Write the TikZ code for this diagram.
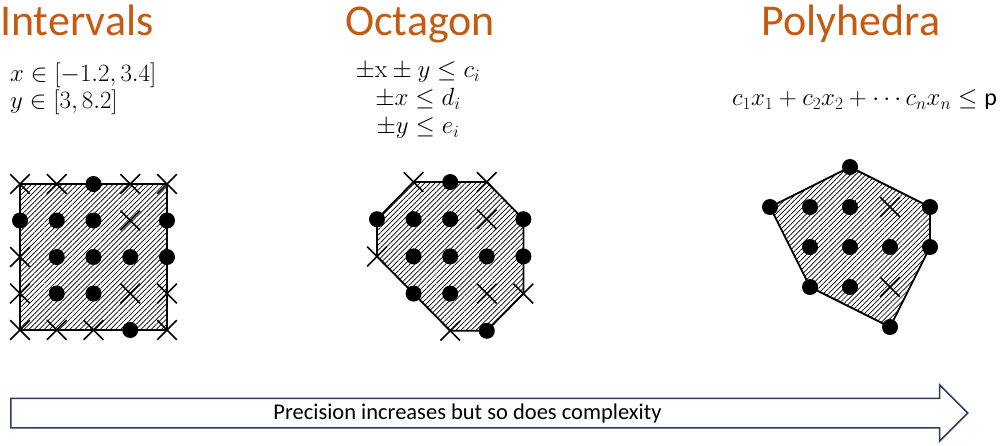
\documentclass[tikz,border=0pt]{standalone}
\usepackage{amsmath,amssymb}
\usepackage[no-math]{fontspec}
\usepackage{tikz}
\usetikzlibrary{shapes,arrows,positioning,calc,patterns.meta}
\newfontfamily\carlito{Carlito}
\definecolor{titleorange}{HTML}{C55A11}
\definecolor{arrownavy}{HTML}{2F3E5C}

\begin{document}
\begin{tikzpicture}[
    x=1pt, y=-1pt,
    title/.style={anchor=base, inner sep=0pt, text=titleorange, font=\carlito\fontsize{44}{50}\selectfont},
    formula/.style={inner sep=0pt, font=\fontsize{24}{27}\selectfont},
    region/.style={draw, line width=1.8pt, line join=miter, pattern={Lines[angle=45, distance=3.6pt, line width=0.7pt]}},
    dotmark/.style={circle, fill=black, inner sep=0pt, minimum size=16pt},
    xmark/.style={cross out, draw, line width=1.6pt, inner sep=0pt, minimum size=18pt}
]
    \path[fill=white, use as bounding box] (0,0) rectangle (1006,445);

    % titles and constraints
    \node[title, anchor=base west] (ivtitle) at (0,35) {Intervals};
    \node[title] (octitle) at (420,35) {Octagon};
    \node[title] (phtitle) at (851,35) {Polyhedra};

    \node[formula, align=left, anchor=west] (ivform) at (10,89) {$x \in [-1.2, 3.4]$\\$y \in [3, 8.2]$};
    \node[formula, align=center, font=\fontsize{24}{28}\selectfont] (ocform) at (418,100)
        {$\pm\mathrm{x} \pm y \leq c_i$\\$\pm x \leq d_i$\\$\pm y \leq e_i$};
    \node[formula] (phform) at (864.5,100) {$c_1x_1 + c_2x_2 + \cdots c_nx_n \leq \mbox{\carlito p}$};

    % intervals
    \begin{scope}[shift={(20,184)}, x=36.75pt, y=-36.5pt]
        \draw[region] (0,0) rectangle (4,4);
        \foreach \c/\r/\m in {0/0/xmark, 1/0/xmark, 2/0/dotmark, 3/0/xmark, 4/0/xmark,
                              0/1/dotmark, 1/1/dotmark, 2/1/dotmark, 3/1/xmark, 4/1/dotmark,
                              0/2/xmark, 1/2/dotmark, 2/2/dotmark, 3/2/dotmark, 4/2/dotmark,
                              0/3/xmark, 1/3/dotmark, 2/3/dotmark, 3/3/xmark, 4/3/xmark,
                              0/4/xmark, 1/4/xmark, 2/4/xmark, 3/4/dotmark, 4/4/xmark}
            \node[\m] (iv-\c-\r) at (\c,\r) {};
    \end{scope}

    % octagon
    \begin{scope}[shift={(377,182)}, x=36.6pt, y=-37.2pt]
        \draw[region] (1,0) -- (3,0) -- (4,1) -- (4,3) -- (3,4) -- (2,4) -- (0,2) -- (0,1) -- cycle;
        \foreach \c/\r/\m in {1/0/xmark, 2/0/dotmark, 3/0/xmark,
                              0/1/dotmark, 1/1/dotmark, 2/1/dotmark, 3/1/xmark, 4/1/dotmark,
                              0/2/xmark, 1/2/dotmark, 2/2/dotmark, 3/2/dotmark, 4/2/dotmark,
                              1/3/dotmark, 2/3/dotmark, 3/3/xmark, 4/3/xmark,
                              2/4/xmark, 3/4/dotmark}
            \node[\m] (oc-\c-\r) at (\c,\r) {};
    \end{scope}

    % polyhedra
    \begin{scope}[shift={(770,167)}, x=40pt, y=-40pt]
        \draw[region] (2,0) -- (4,1) -- (4,2) -- (3,4) -- (1,3) -- (0,1) -- cycle;
        \foreach \c/\r/\m in {2/0/dotmark,
                              0/1/dotmark, 1/1/dotmark, 2/1/dotmark, 3/1/xmark, 4/1/dotmark,
                              1/2/dotmark, 2/2/dotmark, 3/2/dotmark, 4/2/dotmark,
                              1/3/dotmark, 2/3/dotmark, 3/3/xmark,
                              3/4/dotmark}
            \node[\m] (ph-\c-\r) at (\c,\r) {};
    \end{scope}

    % precision arrow
    \node[single arrow, draw=arrownavy, line width=1.5pt, fill=white, inner xsep=0pt, inner ysep=14pt,
          minimum height=957pt, single arrow head extend=13.5pt,
          single arrow tip angle=90, anchor=tail] (progress) at (10,413) {};
    \node[font=\carlito\fontsize{22.5}{27}\selectfont] (progtext) at (467.5,413)
        {Precision increases but so does complexity};
\end{tikzpicture}
\end{document}
